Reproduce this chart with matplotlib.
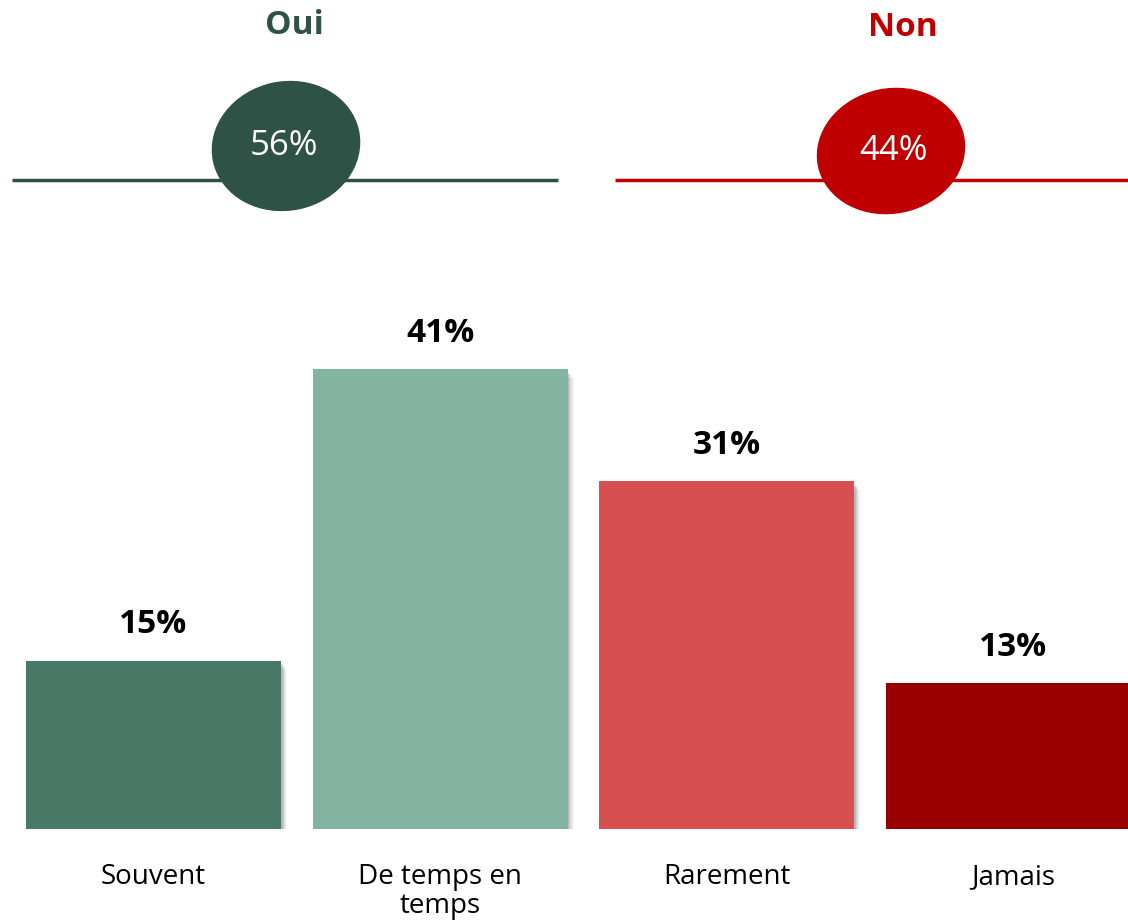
import matplotlib.pyplot as plt
from matplotlib.patches import Ellipse

plt.rcParams['font.family'] = ['Open Sans', 'DejaVu Sans']

# data
categories = ['Souvent', 'De temps en\ntemps', 'Rarement', 'Jamais']
values = [15, 41, 31, 13]
bar_colors = ['#487866', '#83b4a1', '#d84f51', '#980000']

groups = ['Oui', 'Non']
group_values = [56, 44]
group_colors = ['#2f5246', '#c00000']

fig = plt.figure(figsize=(11.28, 9.24), dpi=100)

# bar chart
ax = fig.add_axes([0, 0.1028, 1, 0.607])
x = list(range(len(categories)))
width = 0.89

# soft drop shadow
for k, a in enumerate([0.10, 0.08, 0.06, 0.04, 0.03]):
    off = 0.006 + k * 0.004
    ax.bar([i + off for i in x], [v - 0.15 - k * 0.06 for v in values], width=width,
           bottom=[-0.15 - k * 0.06] * len(values), color='black', alpha=a, linewidth=0)

ax.bar(x, values, width=width, color=bar_colors, linewidth=0, zorder=3)
for i, v in enumerate(values):
    ax.text(i, v + 3.2, f'{v}%', ha='center', va='center', fontsize=24,
            fontweight='bold', color='black')
for i, c in enumerate(categories):
    ax.text(i, -3.0, c, ha='center', va='top', fontsize=20, color='black',
            linespacing=1.05)

ax.set_xlim(-0.536, 3.401)
ax.set_ylim(0, 50)
ax.axis('off')

# top summary
top = fig.add_axes([0, 0, 1, 1])
top.set_xlim(0, 1128)
top.set_ylim(924, 0)
top.axis('off')

lines_x = [(12, 558), (615, 1128)]
title_pos = [(294, 26), (903, 28)]
ell = [(286, 146, 148, 128, -12), (891, 151, 148, 124, -12)]
text_dx = [-2, 3]
for g, gv, col, (x0, x1), (tx, ty), (ex, ey, ew, eh, ang), dx in zip(
        groups, group_values, group_colors, lines_x, title_pos, ell, text_dx):
    top.plot([x0, x1], [180, 180], color=col, linewidth=2.5, solid_capstyle='butt')
    top.add_patch(Ellipse((ex, ey), ew, eh, angle=ang, color=col, zorder=3))
    top.text(ex + dx, ey, f'{gv}%', ha='center', va='center', fontsize=25,
             color='white', zorder=4)
    top.text(tx, ty, g, ha='center', va='center', fontsize=24, fontweight='bold',
             color=col)

fig.savefig('out.png', dpi=100)
